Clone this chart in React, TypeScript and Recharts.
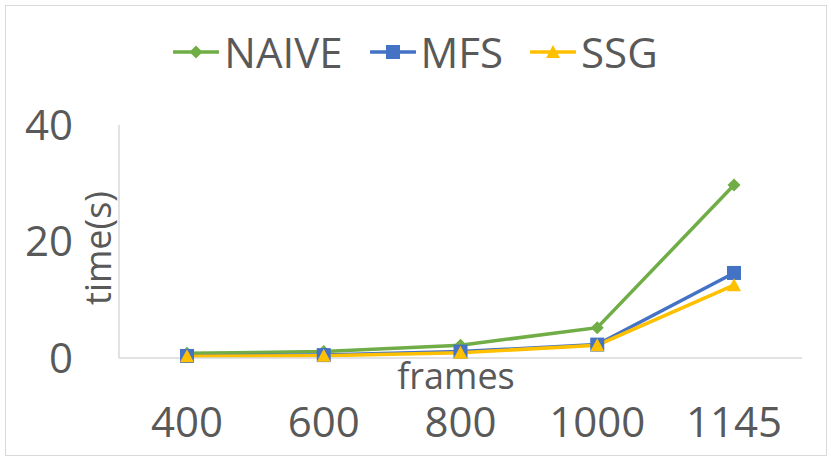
import { CartesianGrid, Line, LineChart, XAxis, YAxis } from 'recharts'

const frames = ['400', '600', '800', '1000', '1145']
const naive = [0.8, 1.1, 2.2, 5.2, 29.7]
const mfs = [0.35, 0.5, 1.1, 2.3, 14.6]
const ssg = [0.3, 0.4, 0.9, 2.2, 12.5]
const yTicks = [0, 20, 40]

const data = frames.map((f, i) => ({ frames: f, NAIVE: naive[i], MFS: mfs[i], SSG: ssg[i] }))

const FONT = '"Open Sans", sans-serif'
const TEXT = '#595959'
const AXIS = '#d9d9d9'

const colors = { NAIVE: '#70ad47', MFS: '#4472c4', SSG: '#ffc000' }

type DotProps = { cx?: number; cy?: number; index?: number }

function Diamond({ cx = 0, cy = 0, fill }: DotProps & { fill: string }) {
  return <path d={`M${cx},${cy - 6.5} L${cx + 6.5},${cy} L${cx},${cy + 6.5} L${cx - 6.5},${cy} Z`} fill={fill} />
}

function Square({ cx = 0, cy = 0, fill }: DotProps & { fill: string }) {
  return <rect x={cx - 7} y={cy - 7} width={14} height={14} fill={fill} />
}

function Triangle({ cx = 0, cy = 0, fill }: DotProps & { fill: string }) {
  return <path d={`M${cx},${cy - 7} L${cx + 7},${cy + 6} L${cx - 7},${cy + 6} Z`} fill={fill} />
}

const markers = { NAIVE: Diamond, MFS: Square, SSG: Triangle }

function LegendItem({ name }: { name: 'NAIVE' | 'MFS' | 'SSG' }) {
  const M = markers[name]
  return (
    <div style={{ display: 'flex', alignItems: 'center' }}>
      <svg width={46} height={20}>
        <line x1={1} y1={10} x2={45} y2={10} stroke={colors[name]} strokeWidth={3.5} strokeLinecap="round" />
        <M cx={23} cy={10} fill={colors[name]} />
      </svg>
      <span style={{ marginLeft: 5, fontSize: 42, lineHeight: '42px' }}>{name}</span>
    </div>
  )
}

export default function App() {
  return (
    <div style={{ position: 'absolute', left: 0, top: 0, width: 831, height: 462, background: '#fff', fontFamily: FONT, color: TEXT }}>
      <div
        style={{
          position: 'absolute',
          left: 5,
          top: 5,
          width: 820,
          height: 449,
          border: `1.5px solid ${AXIS}`,
        }}
      />
      <div
        style={{
          position: 'absolute',
          top: 31,
          left: 0,
          width: 831,
          display: 'flex',
          justifyContent: 'center',
          gap: 27,
        }}
      >
        <LegendItem name="NAIVE" />
        <LegendItem name="MFS" />
        <LegendItem name="SSG" />
      </div>
      <LineChart
        width={831}
        height={462}
        data={data}
        margin={{ top: 125, right: 29, left: 0, bottom: 14 }}
        style={{ position: 'absolute', left: 0, top: 0 }}
      >
        <CartesianGrid horizontal={false} vertical={false} />
        <XAxis
          dataKey="frames"
          padding={{ left: 68, right: 68 }}
          axisLine={{ stroke: AXIS, strokeWidth: 1.5 }}
          tickLine={false}
          tickSize={0}
          tickMargin={49}
          height={90}
          tick={{ fill: TEXT, fontSize: 42, fontFamily: FONT }}
          label={{
            content: () => (
              <text x={456} y={389} textAnchor="middle" fill={TEXT} fontSize={36} fontFamily={FONT}>
                frames
              </text>
            ),
          }}
        />
        <YAxis
          domain={[0, 40]}
          ticks={yTicks}
          width={119}
          axisLine={{ stroke: AXIS, strokeWidth: 1.5 }}
          tickLine={false}
          tickSize={0}
          tickMargin={46}
          tick={{ fill: TEXT, fontSize: 42, fontFamily: FONT }}
          label={{
            content: () => (
              <text
                x={111}
                y={248}
                textAnchor="middle"
                fill={TEXT}
                fontSize={36}
                fontFamily={FONT}
                transform="rotate(-90, 111, 248)"
              >
                time(s)
              </text>
            ),
          }}
        />
        <Line
          dataKey="NAIVE"
          stroke={colors.NAIVE}
          strokeWidth={3.5}
          isAnimationActive={false}
          dot={(p: DotProps) => <Diamond key={`n${p.index}`} cx={p.cx} cy={p.cy} fill={colors.NAIVE} />}
        />
        <Line
          dataKey="MFS"
          stroke={colors.MFS}
          strokeWidth={3.5}
          isAnimationActive={false}
          dot={(p: DotProps) => <Square key={`m${p.index}`} cx={p.cx} cy={p.cy} fill={colors.MFS} />}
        />
        <Line
          dataKey="SSG"
          stroke={colors.SSG}
          strokeWidth={3.5}
          isAnimationActive={false}
          dot={(p: DotProps) => <Triangle key={`s${p.index}`} cx={p.cx} cy={p.cy} fill={colors.SSG} />}
        />
      </LineChart>
    </div>
  )
}
